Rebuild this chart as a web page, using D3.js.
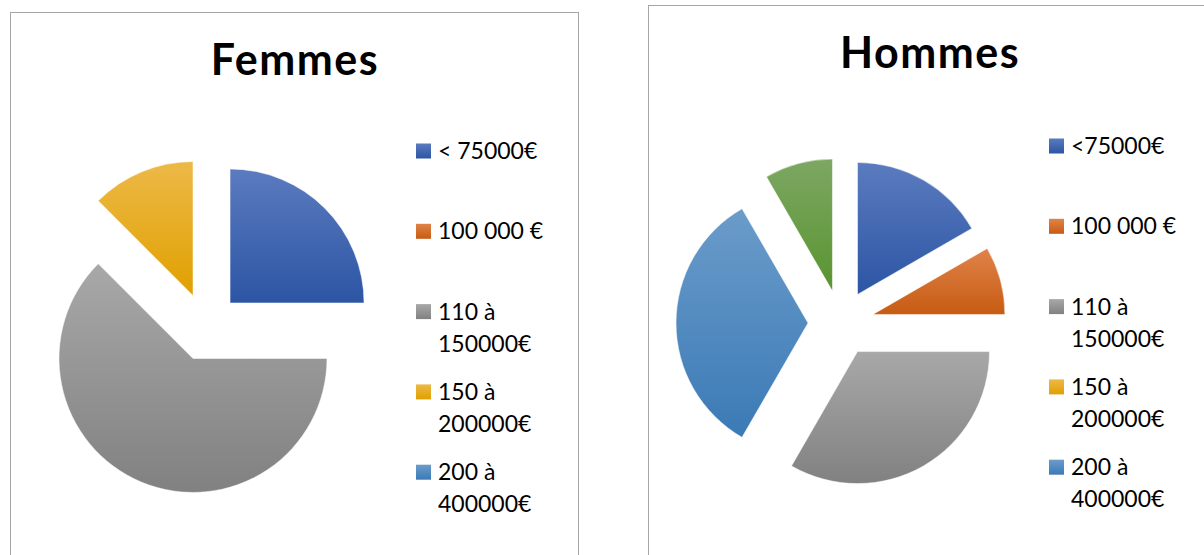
<!DOCTYPE html>
<meta charset="utf-8">
<script src="https://cdn.jsdelivr.net/npm/d3@7"></script>
<style>
body { margin: 0; background: #fff; }
text { font-family: Lato, "Open Sans", sans-serif; fill: #000; }
.title { font-weight: 700; font-size: 43px; }
.leg { font-size: 23px; }
</style>
<body>
<script>

// categories (legend order) and slice values per panel
var femmesLabels = ["< 75000€", "100 000 €", "110 à 150000€", "150 à 200000€", "200 à 400000€"];
var hommesLabels = ["<75000€", "100 000 €", "110 à 150000€", "150 à 200000€", "200 à 400000€", "> 400000€"];
var femmesValues = [2, 0, 5, 1, 0];
var hommesValues = [2, 1, 4, 0, 4, 1];

// top / bottom colours of each slice gradient
var sliceColors = [
  ["#5b7bbf", "#2c55a4"],
  ["#e0834a", "#c75b12"],
  ["#a8a8a8", "#818181"],
  ["#edb947", "#e0a000"],
  ["#6b9cca", "#3b7ab6"],
  ["#7ca762", "#5a9431"]
];

var panels = [
  {title: "Femmes", labels: femmesLabels, values: femmesValues,
   x: 10, y: 12, w: 568, h: 560, titleY: 75, titleX: 295,
   cx: 206, cy: 327, r: 134, explode: 34,
   legX: 416, legY: 151},
  {title: "Hommes", labels: hommesLabels, values: hommesValues,
   x: 648, y: 5, w: 570, h: 570, titleY: 68, titleX: 930,
   cx: 841, cy: 323, r: 132, explode: 33,
   legX: 1049, legY: 146}
];

var svg = d3.select("body").append("svg")
    .attr("width", 1204)
    .attr("height", 555);

var defs = svg.append("defs");
sliceColors.forEach(function(c, i) {
  var g = defs.append("linearGradient")
      .attr("id", "grad" + i)
      .attr("x1", 0).attr("y1", 0).attr("x2", 0).attr("y2", 1);
  g.append("stop").attr("offset", "0%").attr("stop-color", c[0]);
  g.append("stop").attr("offset", "100%").attr("stop-color", c[1]);
});

var pie = d3.pie().sort(null).value(function(d) { return d; });

panels.forEach(function(p) {
  var g = svg.append("g");

  g.append("rect")
      .attr("x", p.x + 0.5).attr("y", p.y + 0.5)
      .attr("width", p.w).attr("height", p.h)
      .attr("fill", "#fff")
      .attr("stroke", "#a6a6a6")
      .attr("stroke-width", 1);

  g.append("text")
      .attr("class", "title")
      .attr("x", p.titleX).attr("y", p.titleY)
      .attr("text-anchor", "middle")
      .style("letter-spacing", "1.5px")
      .text(p.title);

  var arc = d3.arc().innerRadius(0).outerRadius(p.r);

  g.append("g")
      .attr("transform", "translate(" + p.cx + "," + p.cy + ")")
    .selectAll("path")
      .data(pie(p.values).filter(function(d) { return d.value > 0; }))
    .enter().append("path")
      .attr("d", arc)
      .attr("transform", function(d) {
        var a = (d.startAngle + d.endAngle) / 2;
        return "translate(" + (p.explode * Math.sin(a)) + "," + (-p.explode * Math.cos(a)) + ")";
      })
      .attr("fill", function(d) { return "url(#grad" + d.index + ")"; })
      .attr("stroke", "#fff")
      .attr("stroke-width", 0.5);

  // legend shows the first five categories
  var leg = g.append("g").selectAll("g")
      .data(p.labels.slice(0, 5))
    .enter().append("g")
      .attr("transform", function(d, i) { return "translate(" + p.legX + "," + (p.legY + i * 80.3) + ")"; });

  leg.append("rect")
      .attr("x", 0).attr("y", -7.5)
      .attr("width", 15).attr("height", 15)
      .attr("fill", function(d, i) { return "url(#grad" + i + ")"; });

  leg.append("text")
      .attr("class", "leg")
      .attr("x", 22).attr("y", 8)
      .each(function(d) {
        var t = d3.select(this);
        var parts = d.indexOf(" à ") > 0 ? [d.split(" à ")[0] + " à", d.split(" à ")[1]] : [d];
        parts.forEach(function(s, k) {
          t.append("tspan").attr("x", 22).attr("dy", k ? 32 : 0).text(s);
        });
      });
});

</script>
</body>
